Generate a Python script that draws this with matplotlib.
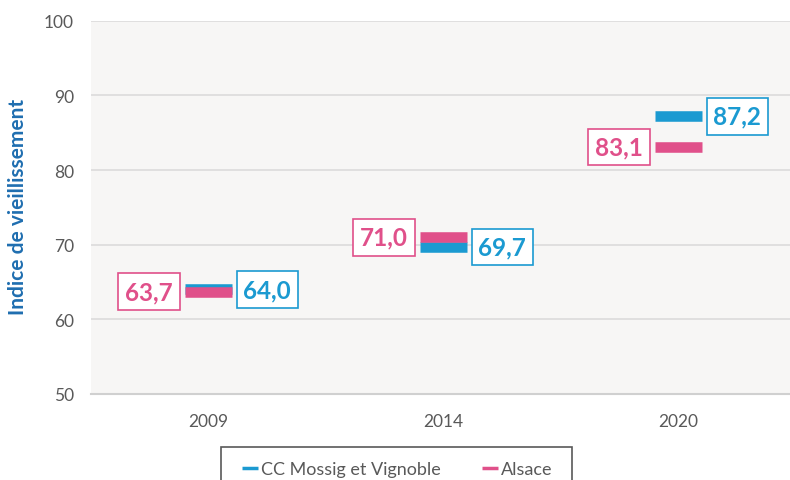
import matplotlib.pyplot as plt
from matplotlib.patches import Rectangle

# data
years = ["2009", "2014", "2020"]
cc_mossig = [64.0, 69.7, 87.2]
alsace = [63.7, 71.0, 83.1]
cc_labels = ["64,0", "69,7", "87,2"]
alsace_labels = ["63,7", "71,0", "83,1"]

blue = "#1B9AD1"
pink = "#E0508A"
grey = "#595959"

plt.rcParams['font.family'] = ['Lato', 'DejaVu Sans']

fig = plt.figure(figsize=(7.9, 4.81), dpi=100)
ax = fig.add_axes([0.1146, 0.1788, 0.8924, 0.7761])
ax.set_facecolor("#F7F6F5")

x = list(range(len(years)))
half = 0.1

# dashes: blue first, pink on top
ax.hlines(cc_mossig, [i - half for i in x], [i + half for i in x],
          colors=blue, linewidth=7.6, capstyle='butt', zorder=3, label="CC Mossig et Vignoble")
ax.hlines(alsace, [i - half for i in x], [i + half for i in x],
          colors=pink, linewidth=7.6, capstyle='butt', zorder=4, label="Alsace")

# data labels in boxes
for i in x:
    ax.annotate(alsace_labels[i], (i - half, alsace[i]), xytext=(-8.5, 0),
                textcoords='offset points', ha='right', va='center',
                fontsize=17.5, fontweight='bold', color=pink, zorder=5,
                bbox=dict(boxstyle='square,pad=0.28', fc='white', ec=pink, lw=1.2))
    ax.annotate(cc_labels[i], (i + half, cc_mossig[i]), xytext=(8.5, 0),
                textcoords='offset points', ha='left', va='center',
                fontsize=17.5, fontweight='bold', color=blue, zorder=5,
                bbox=dict(boxstyle='square,pad=0.28', fc='white', ec=blue, lw=1.2))

ax.set_xlim(-0.5, 2.5)
ax.set_ylim(50, 100)
ax.set_yticks([50, 60, 70, 80, 90, 100])
ax.set_xticks(x)
ax.set_xticklabels(years)
ax.tick_params(length=0, labelsize=12.5, labelcolor=grey)
ax.tick_params(axis='y', pad=12)
ax.tick_params(axis='x', pad=14)
ax.grid(axis='y', color="#D9D9D9", linewidth=1.1)
ax.set_axisbelow(True)
for s in ["top", "right", "left"]:
    ax.spines[s].set_visible(False)
ax.spines["bottom"].set_color("#D0D0D0")
ax.spines["bottom"].set_linewidth(1.5)

fig.text(0.023, 0.569, "Indice de vieillissement", rotation=90, ha='center', va='center',
         fontsize=15, fontweight='bold', color="#1F6EB0")

# legend with a frame box that runs off the bottom edge
fig.patches.append(Rectangle((221 / 790, -0.05), 351 / 790, 0.05 + 33 / 481,
                             transform=fig.transFigure, fill=False,
                             edgecolor=grey, linewidth=1.2))
leg = fig.legend(loc='center', bbox_to_anchor=(397 / 790, 11 / 481), ncol=2,
                 fontsize=13, frameon=False, handlelength=0.9,
                 handletextpad=0.15, columnspacing=2.3, borderpad=0)
for t in leg.get_texts():
    t.set_color(grey)
for h in leg.legend_handles:
    h.set_linewidth(2.5)

fig.savefig("out.png", dpi=100)
